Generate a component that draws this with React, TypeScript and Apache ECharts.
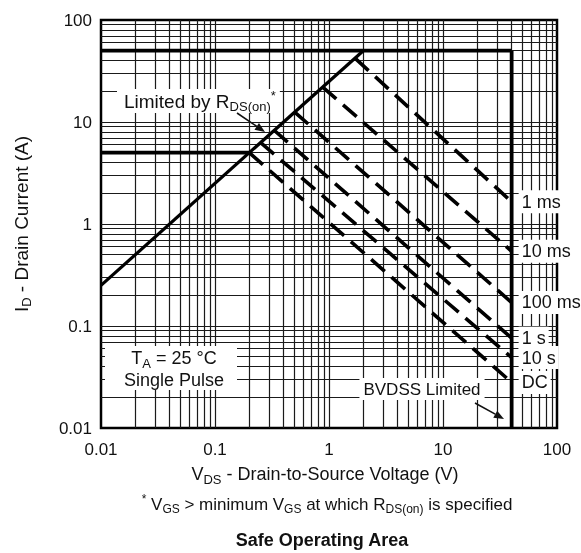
import React, { useEffect, useRef } from 'react';
import * as echarts from 'echarts';

// ---- data ----
const xTickLabels = ['0.01', '0.1', '1', '10', '100'];
const yTickLabels = ['0.01', '0.1', '1', '10', '100'];
const gridMantissas = [1, 2, 3, 4, 5, 6, 7, 8, 9];
const gridDecades = [0.01, 0.1, 1, 10];

// R_DS(on) limit line
const rdsV = [0.01, 2];
const rdsI = [0.25, 50];
// max pulsed current limit
const pulseLimitV = [0.01, 40];
const pulseLimitI = [50, 50];
// BVDSS limit
const bvdssV = [40, 40];
const bvdssI = [50, 0.01];
// continuous current limit
const contLimitV = [0.01, 0.2];
const contLimitI = [5, 5];

// SOA pulse lines
const soaNames = ['1 ms', '10 ms', '100 ms', '1 s', '10 s', 'DC'];
const soaStartV = [1.7, 0.88, 0.5, 0.33, 0.25, 0.2];
const soaStartI = [42, 22, 12.5, 8.3, 6.3, 5];
const soaEndV = [40, 40, 40, 40, 40, 40];
const soaEndI = [1.65, 0.54, 0.17, 0.076, 0.049, 0.028];

const FONT = '"Liberation Sans", Arial, Helvetica, sans-serif';
const INK = '#111';

const mk = (fs: number) => ({
  m: { fontSize: fs, lineHeight: fs + 5, fontFamily: FONT, fill: INK },
  s: { fontSize: Math.round(fs * 0.7), lineHeight: Math.round(fs * 0.7), verticalAlign: 'bottom', fontFamily: FONT, fill: INK },
  p: { fontSize: Math.round(fs * 0.7), lineHeight: Math.round(fs * 0.7), verticalAlign: 'top', fontFamily: FONT, fill: INK },
  b: { fontSize: fs, lineHeight: fs + 5, fontFamily: FONT, fill: INK, fontWeight: 'bold' },
});

function arrow(x1: number, y1: number, x2: number, y2: number) {
  const dx = x2 - x1;
  const dy = y2 - y1;
  const len = Math.sqrt(dx * dx + dy * dy);
  const ux = dx / len;
  const uy = dy / len;
  const hl = 10;
  const hw = 4;
  const bx = x2 - ux * hl;
  const by = y2 - uy * hl;
  return [
    {
      type: 'line',
      z: 120,
      shape: { x1, y1, x2: bx, y2: by },
      style: { stroke: INK, lineWidth: 1.6 },
    },
    {
      type: 'polygon',
      z: 120,
      shape: {
        points: [
          [x2, y2],
          [bx - uy * hw, by + ux * hw],
          [bx + uy * hw, by - ux * hw],
        ],
      },
      style: { fill: INK },
    },
  ];
}

export default function App() {
  const ref = useRef<HTMLDivElement>(null);

  useEffect(() => {
    const chart = echarts.init(ref.current!, null, { renderer: 'svg' });

    const gridX: number[] = [];
    const gridY: number[] = [];
    gridDecades.forEach((d) => {
      gridMantissas.forEach((m) => {
        const v = +(m * d).toPrecision(3);
        if (v > 0.01) {
          gridX.push(v);
          gridY.push(v);
        }
      });
    });

    const thick = (name: string, xs: number[], ys: number[], w: number) => ({
      name,
      type: 'line',
      z: 3,
      symbol: 'none',
      silent: true,
      lineStyle: { color: '#000', width: w, cap: 'butt' },
      data: xs.map((x, i) => [x, ys[i]]),
    });

    const soaSeries = soaNames.map((n, i) => ({
      name: n,
      type: 'line',
      z: 4,
      symbol: 'none',
      silent: true,
      lineStyle: { color: '#000', width: 3.6, type: [18, 9], cap: 'butt' },
      data: [
        [soaStartV[i], soaStartI[i]],
        [soaEndV[i], soaEndI[i]],
      ],
      endLabel: {
        show: true,
        formatter: n,
        distance: 7,
        color: INK,
        fontSize: 18,
        fontFamily: FONT,
        backgroundColor: '#fff',
        padding: [3, 3, 2, 3],
      },
    }));

    const fmt = (labels: string[]) => (v: number) => {
      const idx = Math.round(Math.log10(v)) + 2;
      return labels[idx] ?? String(v);
    };

    const option: any = {
      animation: false,
      grid: {
        left: 101,
        top: 20,
        width: 456,
        height: 408,
        show: true,
        borderColor: '#000',
        borderWidth: 2.5,
        backgroundColor: 'transparent',
      },
      xAxis: {
        type: 'log',
        logBase: 10,
        min: 0.01,
        max: 100,
        axisLine: { show: false },
        axisTick: { show: false },
        splitLine: { show: false },
        axisLabel: {
          fontSize: 17,
          color: INK,
          fontFamily: FONT,
          margin: 13,
          formatter: fmt(xTickLabels),
        },
      },
      yAxis: {
        type: 'log',
        logBase: 10,
        min: 0.01,
        max: 100,
        axisLine: { show: false },
        axisTick: { show: false },
        splitLine: { show: false },
        axisLabel: {
          fontSize: 17,
          color: INK,
          fontFamily: FONT,
          margin: 9,
          formatter: fmt(yTickLabels),
        },
      },
      series: [
        {
          name: 'grid',
          type: 'line',
          z: 1,
          symbol: 'none',
          silent: true,
          data: [[0.01, 0.01]],
          lineStyle: { width: 0 },
          markLine: {
            z: 1,
            silent: true,
            symbol: ['none', 'none'],
            label: { show: false },
            lineStyle: { color: '#1a1a1a', width: 1.2, type: 'solid' },
            emphasis: { disabled: true },
            data: [
              ...gridX.map((v) => ({ xAxis: v })),
              ...gridY.map((v) => ({ yAxis: v })),
            ],
          },
        },
        thick('pulse', pulseLimitV, pulseLimitI, 3.8),
        thick('bvdss', bvdssV, bvdssI, 3.8),
        thick('cont', contLimitV, contLimitI, 3.8),
        thick('rds', rdsV, rdsI, 3.2),
        ...soaSeries,
      ],
      graphic: [
        // Y axis title
        {
          type: 'text',
          z: 110,
          x: 21,
          y: 224,
          rotation: Math.PI / 2,
          style: {
            text: '{m|I}{s|D}{m| - Drain Current (A)}',
            rich: mk(19),
            align: 'center',
            verticalAlign: 'middle',
          },
        },
        // X axis title
        {
          type: 'text',
          z: 110,
          x: 325,
          y: 474,
          style: {
            text: '{m|V}{s|DS}{m| - Drain-to-Source Voltage (V)}',
            rich: mk(18),
            align: 'center',
            verticalAlign: 'middle',
          },
        },
        // footnote
        {
          type: 'text',
          z: 110,
          x: 327,
          y: 504,
          style: {
            text: '{p|*}{m| V}{s|GS}{m| > minimum V}{s|GS}{m| at which R}{s|DS(on)}{m| is specified}',
            rich: mk(17),
            align: 'center',
            verticalAlign: 'middle',
          },
        },
        // title
        {
          type: 'text',
          z: 110,
          x: 322,
          y: 540,
          style: {
            text: '{b|Safe Operating Area}',
            rich: mk(18),
            align: 'center',
            verticalAlign: 'middle',
          },
        },
        // Limited by RDS(on)
        {
          type: 'text',
          z: 110,
          x: 117,
          y: 101,
          style: {
            text: '{m|Limited by R}{s|DS(on)}{p|*}',
            rich: mk(19),
            align: 'left',
            verticalAlign: 'middle',
            backgroundColor: '#fff',
            padding: [0, 4, 0, 7],
          },
        },
        ...arrow(237, 113, 265, 132),
        // TA box
        {
          type: 'rect',
          z: 105,
          shape: { x: 105, y: 346, width: 132, height: 44 },
          style: { fill: '#fff' },
        },
        {
          type: 'text',
          z: 110,
          x: 174,
          y: 358,
          style: {
            text: '{m|T}{s|A}{m| = 25 °C}',
            rich: mk(18),
            align: 'center',
            verticalAlign: 'middle',
          },
        },
        {
          type: 'text',
          z: 110,
          x: 174,
          y: 380,
          style: {
            text: '{m|Single Pulse}',
            rich: mk(18),
            align: 'center',
            verticalAlign: 'middle',
          },
        },
        // BVDSS Limited
        {
          type: 'text',
          z: 110,
          x: 422,
          y: 389,
          style: {
            text: '{m|BVDSS Limited}',
            rich: mk(17),
            align: 'center',
            verticalAlign: 'middle',
            backgroundColor: '#fff',
            padding: [0, 4, 0, 4],
          },
        },
        ...arrow(475, 403, 504, 419),
      ],
    };

    chart.setOption(option);
    return () => chart.dispose();
  }, []);

  return (
    <div
      ref={ref}
      style={{ position: 'fixed', left: 0, top: 0, width: 581, height: 553 }}
    />
  );
}
